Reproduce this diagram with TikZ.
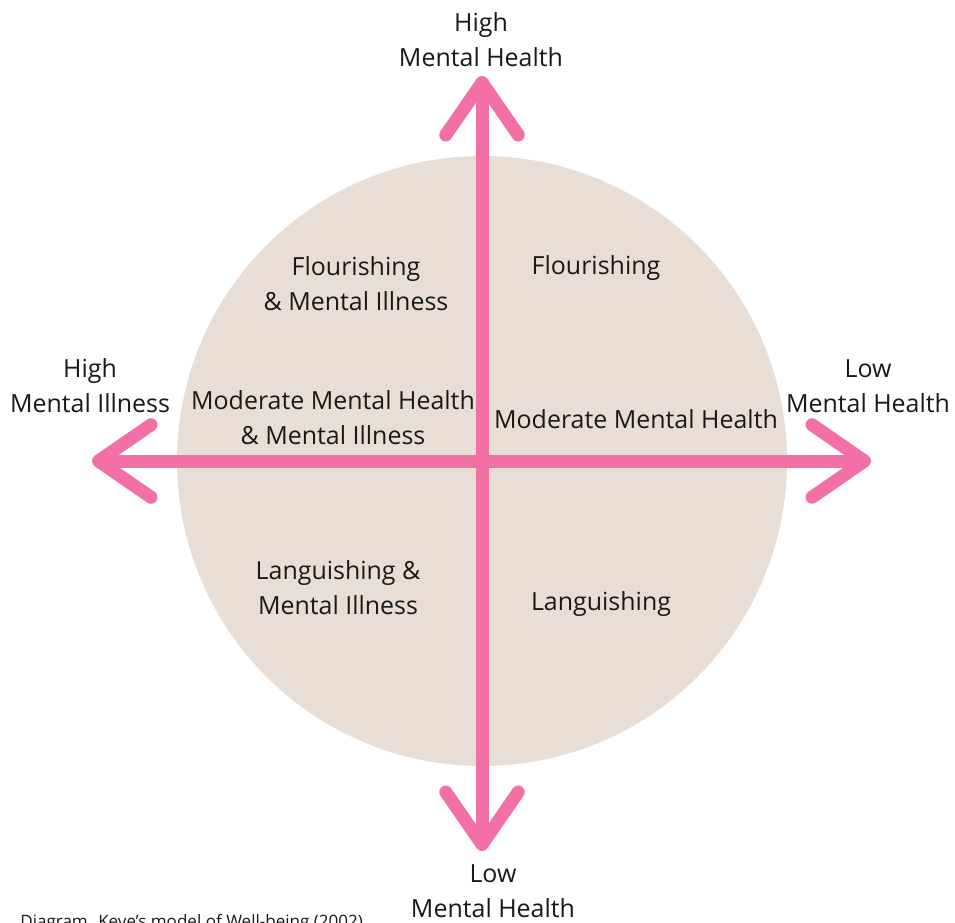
\documentclass[tikz,border=0pt]{standalone}
\usepackage{fontspec}
\setmainfont{Open Sans}
\usetikzlibrary{arrows.meta}
\definecolor{axispink}{RGB}{242,112,166}
\definecolor{discbeige}{RGB}{233,222,213}
\definecolor{inkgray}{RGB}{25,25,25}
\tikzset{>={Straight Barb[round,length=1.05cm,width=1.45cm]}}
\tikzset{
  axisline/.style={line width=0.26cm, axispink, <->},
  axistext/.style={align=center, inkgray, font=\fontsize{14.2}{19.9}\selectfont},
  zonetext/.style={align=center, inkgray, font=\fontsize{14.2}{19.9}\selectfont}
}

\begin{document}
\begin{tikzpicture}[x=0.02cm,y=-0.02cm]
    \clip (0,0) rectangle (955,922);
    \fill[white] (0,0) rectangle (955,922);
    % disc behind the axes
    \coordinate (mid) at (482,461);
    \fill[discbeige] (mid) circle (6.1cm);
    % axes
    \coordinate (topend) at (482,76);
    \coordinate (bottomend) at (482,851);
    \coordinate (leftend) at (92,461);
    \coordinate (rightend) at (871,461);
    \draw[axisline] (bottomend) -- (topend);
    \draw[axisline] (leftend) -- (rightend);
    % axis labels
    \node[axistext] (highmh) at (481,40) {High\\Mental Health};
    \node[axistext] (lowmh) at (493,891) {Low\\Mental Health};
    \node[axistext] (highmi) at (90,386) {High\\Mental Illness};
    \node[axistext] (lowmhright) at (868,386) {Low\\Mental Health};
    % quadrant labels
    \node[zonetext] (flourmi) at (356,284) {Flourishing\\\& Mental Illness};
    \node[zonetext] (flour) at (596,268) {Flourishing};
    \node[zonetext] (modmi) at (333,418) {Moderate Mental Health\\\& Mental Illness};
    \node[zonetext] (mod) at (636,419) {Moderate Mental Health};
    \node[zonetext] (langmi) at (338,588) {Languishing \&\\Mental Illness};
    \node[zonetext] (lang) at (601,604) {Languishing};
    % caption, cut by the page edge
    \node[anchor=base west, inkgray, inner sep=0pt, font=\fontsize{9.7}{11}\selectfont] (caption) at (20,927) {Diagram. Keye’s model of Well-being (2002)};
\end{tikzpicture}
\end{document}
